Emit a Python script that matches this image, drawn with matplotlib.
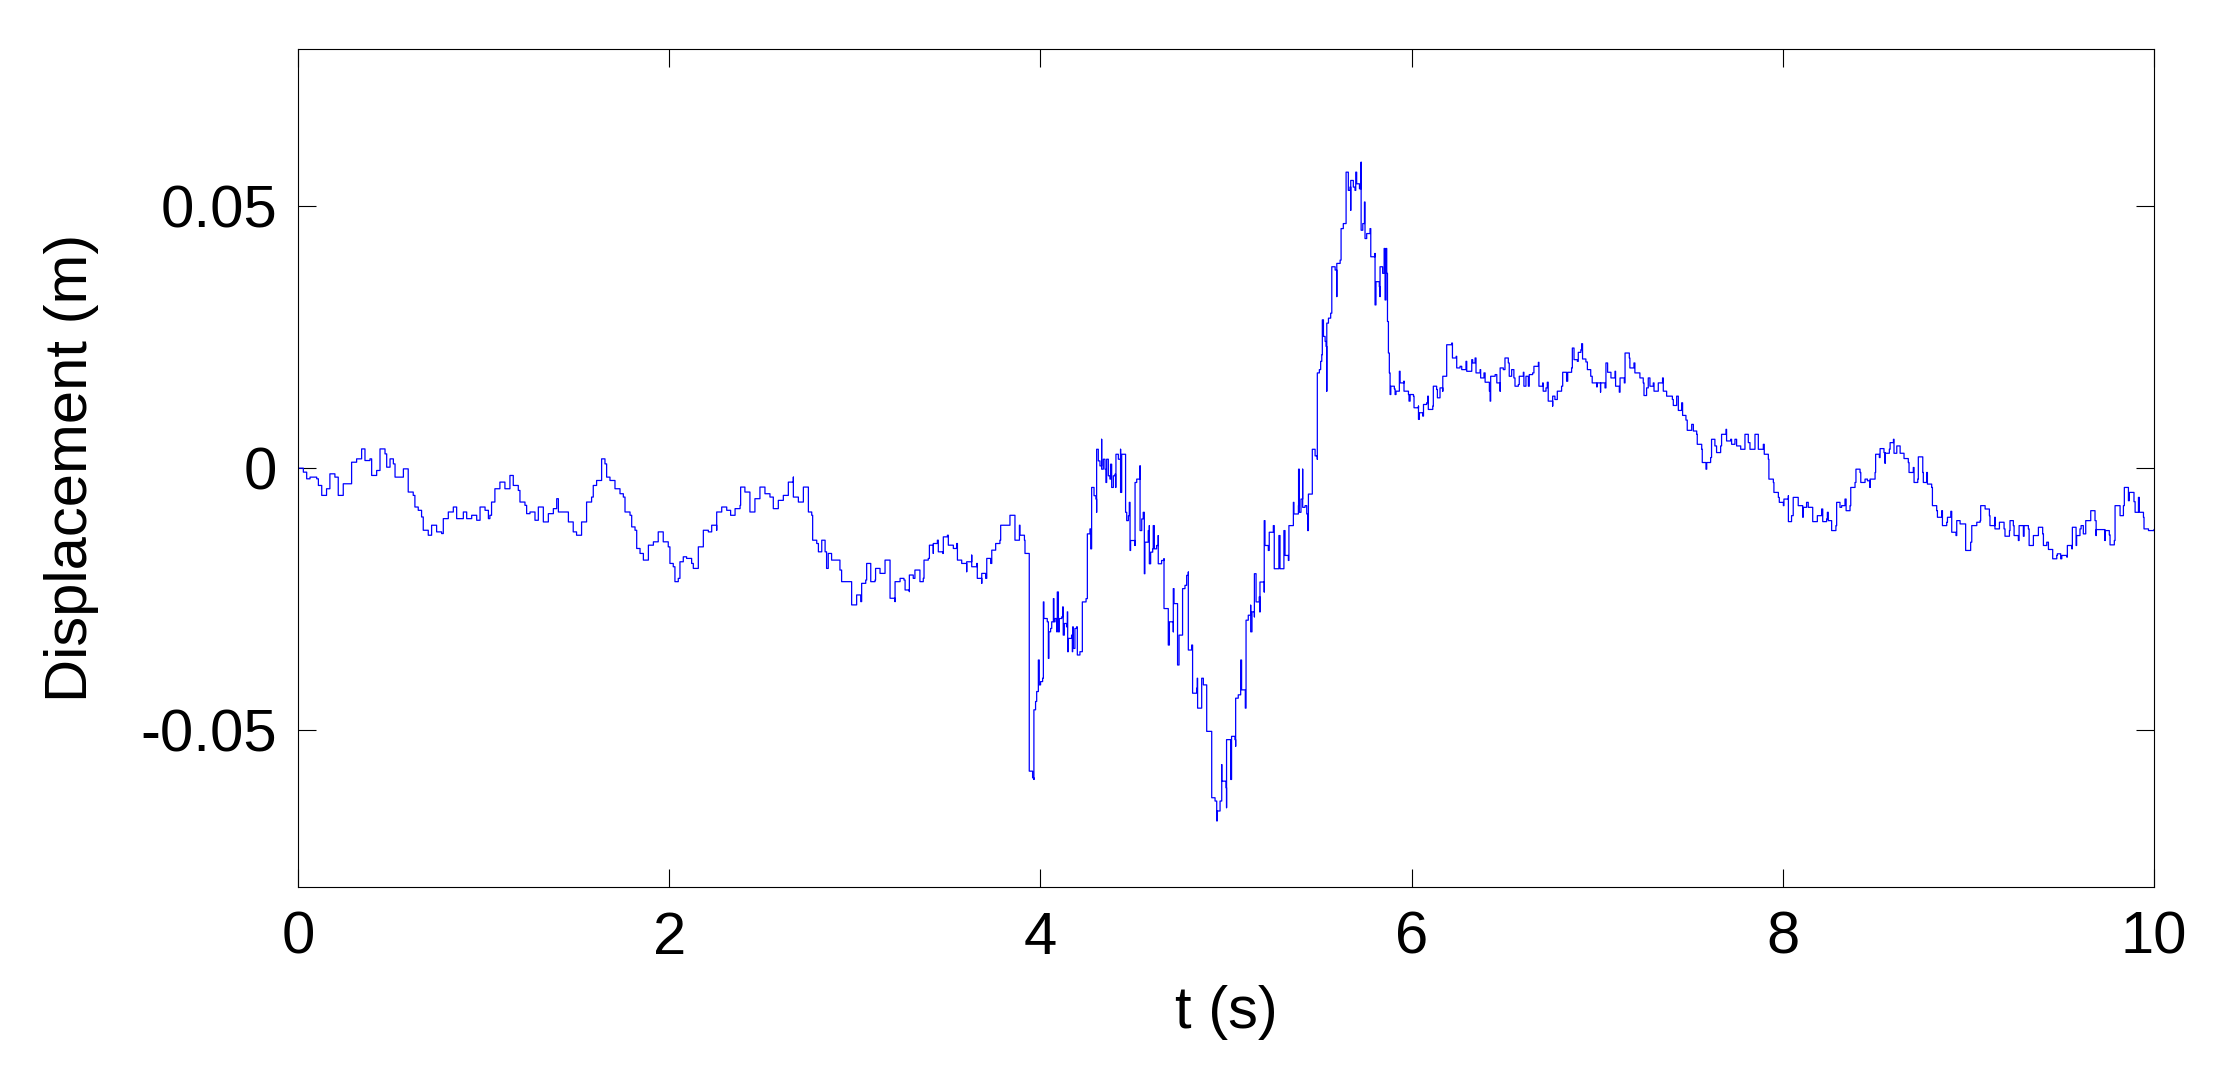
import numpy as np
import matplotlib
matplotlib.use("Agg")
import matplotlib.pyplot as plt

# displacement record: (time in s, displacement in mm)
seg_0_2 = [
    (0.000, 0.00), (0.029, -0.76), (0.047, -2.03), (0.065, -1.71), (0.101, -2.03), (0.110, -3.30),
    (0.128, -5.20), (0.154, -3.93), (0.172, -1.08), (0.199, -1.71), (0.217, -5.20), (0.235, -5.20),
    (0.244, -2.98), (0.280, -2.98), (0.289, 1.14), (0.316, 1.78), (0.343, 3.68), (0.361, 1.46),
    (0.388, 1.78), (0.397, -1.39), (0.424, -0.44), (0.442, 3.68), (0.469, 2.73), (0.478, 0.19),
    (0.496, 1.78), (0.514, 0.82), (0.523, -1.71), (0.568, -0.13), (0.594, -4.56), (0.621, -5.20),
    (0.630, -7.42), (0.648, -8.05), (0.666, -9.32), (0.675, -11.86), (0.702, -12.81), (0.720, -10.90),
    (0.747, -12.17), (0.774, -12.49), (0.783, -9.64), (0.810, -8.37), (0.837, -7.42), (0.855, -9.64),
    (0.891, -8.37), (0.909, -9.64), (0.936, -9.00), (0.963, -9.95), (0.981, -7.42), (1.008, -8.05),
    (1.026, -9.64), (1.034, -9.00), (1.043, -6.47), (1.061, -3.93), (1.088, -2.66), (1.115, -3.93),
    (1.142, -1.39), (1.160, -3.30), (1.187, -4.25), (1.196, -6.47), (1.223, -7.10), (1.232, -8.69),
    (1.250, -8.37), (1.277, -9.95), (1.295, -7.42), (1.322, -10.27), (1.349, -8.69), (1.376, -7.73),
    (1.394, -5.83), (1.403, -8.37), (1.430, -8.37), (1.457, -10.27), (1.483, -12.17), (1.501, -12.81),
    (1.528, -10.27), (1.555, -6.47), (1.582, -5.52), (1.591, -3.30), (1.609, -2.35), (1.636, 1.78),
    (1.654, 0.82), (1.663, -1.71), (1.681, -2.35), (1.708, -3.93), (1.735, -4.88), (1.753, -5.52),
    (1.762, -8.37), (1.789, -9.00), (1.798, -11.22), (1.816, -11.86), (1.825, -15.34), (1.843, -16.29),
    (1.861, -17.56), (1.888, -14.71), (1.915, -14.07), (1.941, -12.17), (1.968, -14.07), (1.995, -15.03),
    (2.004, -18.20), (2.022, -18.83), (2.031, -21.68), (2.049, -21.05), (2.058, -17.88), (2.076, -16.93),
    (2.094, -17.24), (2.121, -18.20), (2.130, -19.15), (2.157, -15.03), (2.184, -11.86), (2.211, -12.17),
]

seg_2_4 = [
    (2.229, -10.90), (2.256, -11.86), (2.256, -8.37), (2.283, -7.42), (2.310, -8.05), (2.331, -9.00),
    (2.355, -7.73), (2.382, -7.10), (2.385, -3.61), (2.408, -4.56), (2.435, -7.10), (2.435, -8.37),
    (2.462, -5.83), (2.489, -3.61), (2.516, -4.88), (2.543, -5.52), (2.561, -7.73), (2.588, -6.15),
    (2.615, -5.20), (2.642, -2.66), (2.669, -1.71), (2.669, -5.52), (2.696, -6.47), (2.723, -3.61),
    (2.750, -4.56), (2.750, -8.37), (2.768, -9.00), (2.773, -13.76), (2.795, -14.39), (2.804, -15.98),
    (2.822, -13.76), (2.840, -15.98), (2.848, -19.15), (2.857, -16.29), (2.875, -17.56), (2.902, -17.56),
    (2.920, -19.46), (2.929, -21.68), (2.956, -21.68), (2.983, -22.95), (2.983, -26.12), (3.010, -24.22),
    (3.032, -25.49), (3.037, -22.00), (3.059, -21.37), (3.064, -18.20), (3.086, -18.51), (3.086, -21.68),
    (3.109, -21.37), (3.112, -19.15), (3.136, -20.10), (3.163, -17.56), (3.190, -19.15), (3.190, -24.85),
    (3.217, -25.49), (3.217, -21.68), (3.244, -21.05), (3.265, -21.37), (3.271, -23.27), (3.294, -23.58),
    (3.294, -20.41), (3.315, -21.05), (3.324, -19.46), (3.351, -21.68), (3.369, -21.05), (3.373, -17.56),
    (3.396, -17.24), (3.402, -14.71), (3.423, -16.29), (3.423, -14.39), (3.445, -13.76), (3.450, -15.98),
    (3.474, -16.29), (3.477, -13.12), (3.499, -12.81), (3.504, -14.71), (3.531, -15.34), (3.549, -14.39),
    (3.553, -17.56), (3.576, -18.20), (3.603, -19.78), (3.603, -17.88), (3.630, -16.61), (3.630, -18.83),
    (3.657, -18.20), (3.660, -21.05), (3.684, -22.00), (3.684, -20.10), (3.705, -21.05), (3.711, -17.24),
    (3.732, -18.20), (3.738, -15.66), (3.759, -14.39), (3.782, -13.76), (3.786, -10.90), (3.836, -10.90),
    (3.836, -9.00), (3.863, -10.90), (3.863, -13.76), (3.887, -10.90), (3.890, -12.81), (3.914, -13.76),
    (3.917, -16.29), (3.940, -17.31),
]

seg_4_5 = [
    (3.940, -57.88), (3.958, -59.15), (3.965, -59.47), (3.965, -46.16), (3.974, -44.57), (3.980, -42.67),
    (3.989, -41.40), (3.989, -36.65), (3.994, -41.40), (4.001, -40.77), (4.012, -40.13), (4.016, -25.55),
    (4.019, -28.72), (4.037, -29.35), (4.043, -36.33), (4.046, -31.26), (4.055, -30.62), (4.061, -29.35),
    (4.070, -24.92), (4.073, -29.35), (4.079, -28.72), (4.088, -31.26), (4.091, -23.65), (4.097, -31.26),
    (4.102, -28.72), (4.115, -28.40), (4.120, -26.50), (4.123, -31.89), (4.129, -29.67), (4.141, -30.31),
    (4.145, -27.45), (4.147, -35.06), (4.150, -32.52), (4.168, -31.89), (4.172, -35.06), (4.174, -30.31),
    (4.177, -34.43), (4.186, -30.62), (4.195, -30.31), (4.199, -35.69), (4.213, -35.06), (4.226, -34.74),
    (4.226, -25.55), (4.246, -24.92), (4.253, -24.92), (4.253, -12.55), (4.267, -11.60), (4.271, -15.41),
    (4.276, -3.68), (4.289, -5.26), (4.299, -5.90), (4.303, -8.43), (4.303, 3.61), (4.312, 1.39),
    (4.321, 0.44), (4.330, 5.52), (4.330, -0.19), (4.339, 1.71), (4.348, -0.19), (4.353, -2.73),
    (4.357, 1.71), (4.366, -1.46), (4.375, -2.09), (4.378, 0.76), (4.384, -3.68), (4.393, -1.46),
    (4.402, -1.14), (4.405, -3.68), (4.407, 2.66), (4.420, 1.71), (4.429, 1.71), (4.432, 3.61),
    (4.432, -4.63), (4.438, 2.66), (4.456, 2.66), (4.459, -8.43), (4.465, -10.02), (4.474, -9.07),
    (4.479, -6.53), (4.483, -15.72), (4.486, -13.82), (4.510, -14.77), (4.510, -2.73), (4.519, -2.09),
    (4.537, 0.44), (4.537, -11.92), (4.546, -9.70), (4.554, -8.43), (4.560, -20.16), (4.563, -14.14),
    (4.581, -11.92), (4.587, -10.97), (4.587, -18.26), (4.594, -16.04), (4.605, -15.41), (4.608, -10.97),
    (4.614, -15.41), (4.626, -14.77), (4.635, -12.87), (4.635, -18.26), (4.653, -17.63), (4.666, -17.31),
    (4.666, -26.82), (4.689, -28.09), (4.689, -33.79), (4.695, -29.35), (4.716, -31.26), (4.716, -23.01),
    (4.720, -25.87), (4.739, -26.50), (4.739, -37.60), (4.747, -31.89), (4.766, -31.26), (4.766, -23.01),
    (4.779, -22.38), (4.788, -20.48), (4.797, -19.84), (4.797, -34.74), (4.815, -33.79), (4.820, -42.99),
    (4.842, -42.03), (4.845, -40.13), (4.847, -45.84), (4.869, -45.84), (4.869, -40.13), (4.878, -41.40),
    (4.896, -42.03), (4.896, -50.28), (4.923, -50.28), (4.923, -62.96), (4.941, -63.59), (4.950, -67.39),
    (4.953, -65.49), (4.968, -63.59), (4.977, -56.62), (4.977, -59.79), (5.000, -61.05), (5.003, -64.86),
    (5.003, -51.86), (5.025, -51.86), (5.025, -59.47), (5.030, -51.23), (5.048, -51.86), (5.052, -53.13),
    (5.052, -43.94), (5.066, -43.30), (5.079, -42.67), (5.079, -36.65), (5.084, -42.35), (5.104, -43.94),
    (5.104, -45.84), (5.108, -29.04), (5.120, -28.09), (5.133, -26.18), (5.133, -31.26), (5.140, -27.45),
    (5.153, -28.40), (5.153, -20.16), (5.162, -25.55), (5.179, -24.60), (5.183, -27.45), (5.183, -21.75),
    (5.206, -23.65), (5.206, -10.02), (5.210, -14.77), (5.228, -15.72), (5.233, -12.24), (5.255, -10.97),
    (5.260, -19.21), (5.282, -19.21), (5.285, -12.87), (5.291, -19.21), (5.309, -19.21), (5.312, -11.92),
    (5.318, -16.67), (5.336, -17.63), (5.339, -10.97), (5.363, -10.97), (5.363, -6.53), (5.366, -8.75),
    (5.390, -7.16), (5.391, -0.19), (5.395, -8.43), (5.404, -5.90), (5.413, -0.19), (5.413, -7.48),
    (5.426, -7.16), (5.435, -8.75), (5.440, -11.92), (5.444, -4.95), (5.465, -4.63), (5.465, 3.61),
    (5.480, 2.35), (5.492, 1.71),
]

seg_5_6 = [
    (5.492, 18.20), (5.503, 18.83), (5.510, 20.41), (5.516, 21.68), (5.519, 28.34), (5.525, 25.17),
    (5.534, 24.22), (5.539, 23.27), (5.543, 14.71), (5.543, 27.71), (5.552, 28.66), (5.564, 29.61),
    (5.570, 29.61), (5.570, 38.48), (5.588, 37.85), (5.597, 32.78), (5.597, 39.12), (5.615, 39.75),
    (5.620, 40.39), (5.620, 45.77), (5.632, 46.73), (5.647, 47.36), (5.647, 56.55), (5.659, 53.07),
    (5.668, 53.70), (5.672, 49.26), (5.672, 54.97), (5.686, 53.70), (5.695, 53.07), (5.699, 56.55),
    (5.704, 54.33), (5.719, 53.38), (5.728, 58.45), (5.728, 45.46), (5.737, 46.73), (5.746, 50.85),
    (5.749, 43.87), (5.758, 44.82), (5.776, 45.77), (5.780, 40.39), (5.803, 41.02), (5.803, 31.19),
    (5.808, 35.63), (5.826, 34.68), (5.830, 32.78), (5.830, 38.48), (5.844, 37.22), (5.852, 41.97),
    (5.857, 32.14), (5.862, 41.97), (5.866, 37.22), (5.870, 28.02), (5.875, 25.17), (5.875, 22.00),
    (5.880, 18.20), (5.884, 14.07), (5.888, 15.66), (5.907, 15.15), (5.911, 14.07), (5.916, 14.71),
    (5.934, 18.51), (5.938, 16.29), (5.959, 16.61), (5.959, 14.71), (5.983, 14.07), (5.986, 12.81),
    (5.992, 14.07), (6.010, 13.76), (6.013, 11.54), (6.037, 11.86), (6.037, 9.32), (6.042, 10.59),
    (6.060, 9.95), (6.064, 12.17), (6.081, 12.49), (6.087, 13.76), (6.090, 11.22), (6.114, 11.86),
    (6.117, 15.66), (6.135, 15.03), (6.139, 13.44), (6.153, 15.34), (6.168, 14.71), (6.168, 17.56),
    (6.189, 18.20), (6.189, 23.58), (6.216, 23.90), (6.220, 21.05), (6.240, 21.37), (6.243, 19.15),
    (6.261, 19.46), (6.270, 18.83), (6.293, 20.41), (6.297, 18.51), (6.324, 20.73), (6.329, 20.10),
    (6.342, 21.05), (6.347, 18.20), (6.369, 18.83), (6.372, 17.24), (6.390, 18.20), (6.396, 16.42),
    (6.419, 14.71), (6.423, 12.81), (6.426, 17.56), (6.450, 17.88), (6.459, 16.29), (6.477, 14.71),
    (6.477, 19.15),
]

seg_6_8 = [
    (6.494, 18.83), (6.503, 21.05), (6.521, 20.10), (6.526, 17.56), (6.539, 18.83), (6.551, 17.24),
    (6.557, 15.66), (6.575, 15.98), (6.580, 17.56), (6.602, 18.32), (6.605, 15.66), (6.616, 17.56),
    (6.629, 15.66), (6.634, 17.88), (6.652, 18.20), (6.659, 19.46), (6.683, 20.22), (6.686, 15.66),
    (6.706, 16.29), (6.709, 14.71), (6.724, 15.34), (6.731, 16.42), (6.736, 12.81), (6.760, 11.86),
    (6.760, 13.76), (6.772, 13.12), (6.785, 14.71), (6.808, 15.66), (6.814, 18.32), (6.835, 16.61),
    (6.841, 18.32), (6.862, 19.15), (6.866, 22.95), (6.875, 20.73), (6.893, 20.41), (6.898, 22.13),
    (6.912, 22.63), (6.916, 23.78), (6.921, 20.86), (6.939, 20.29), (6.947, 18.83), (6.965, 17.56),
    (6.973, 16.29), (6.997, 15.53), (7.000, 16.29), (7.018, 14.52), (7.018, 16.29), (7.042, 15.34),
    (7.047, 20.10), (7.056, 18.32), (7.074, 17.24), (7.096, 18.51), (7.099, 15.66), (7.119, 14.52),
    (7.123, 17.24), (7.146, 16.29), (7.150, 22.00), (7.173, 21.05), (7.176, 19.15), (7.198, 20.10),
    (7.203, 18.20), (7.230, 17.24), (7.248, 16.29), (7.252, 13.88), (7.266, 15.34), (7.275, 17.24),
    (7.284, 15.66), (7.302, 16.29), (7.306, 14.71), (7.329, 16.29), (7.352, 17.24), (7.356, 14.71),
    (7.374, 13.76), (7.405, 13.12), (7.410, 11.98), (7.428, 13.76), (7.437, 11.03), (7.455, 12.49),
    (7.460, 10.08), (7.478, 9.19), (7.485, 7.23), (7.509, 8.37), (7.518, 7.10), (7.536, 6.47),
    (7.539, 4.56), (7.563, 3.61), (7.566, 1.08), (7.586, -0.19), (7.590, 1.08), (7.611, 2.03),
    (7.616, 5.52), (7.634, 4.25), (7.643, 2.98), (7.665, 4.25), (7.670, 6.47), (7.694, 7.42),
    (7.697, 5.20), (7.719, 5.52), (7.724, 4.56), (7.742, 5.52), (7.751, 4.25), (7.773, 3.61),
    (7.796, 3.61), (7.796, 6.47), (7.814, 4.88), (7.823, 3.61), (7.845, 3.61), (7.850, 6.47),
    (7.868, 3.61), (7.895, 4.56), (7.900, 2.66), (7.922, 1.71), (7.925, -2.09), (7.949, -2.73),
    (7.952, -4.63), (7.976, -5.58), (7.981, -6.53), (8.003, -7.16), (8.006, -5.90), (8.030, -5.26),
    (8.030, -10.21), (8.047, -9.07), (8.056, -5.58), (8.083, -7.16), (8.107, -9.38), (8.110, -7.48),
    (8.128, -6.53), (8.137, -7.48), (8.161, -8.12), (8.161, -10.21), (8.186, -9.07), (8.209, -7.80),
    (8.215, -10.21), (8.236, -9.70), (8.240, -8.43), (8.245, -10.02), (8.263, -11.92), (8.286, -10.97),
    (8.290, -6.53), (8.308, -7.48),
]

seg_8_10 = [
    (8.317, -7.16), (8.335, -5.90), (8.341, -8.12), (8.362, -7.16), (8.366, -3.68), (8.389, -2.73),
    (8.394, -0.19), (8.416, -0.82), (8.420, -2.73), (8.443, -2.09), (8.456, -2.41), (8.470, -3.68),
    (8.470, -2.09), (8.497, -0.82), (8.500, 2.66), (8.520, 2.03), (8.524, 3.74), (8.545, 2.98),
    (8.551, 0.95), (8.551, 2.85), (8.574, 3.61), (8.578, 4.88), (8.596, 5.52), (8.599, 2.85),
    (8.614, 4.25), (8.628, 4.25), (8.632, 2.85), (8.653, 1.84), (8.676, 1.08), (8.680, -0.82),
    (8.703, 0.13), (8.707, -2.73), (8.727, -2.09), (8.730, 2.16), (8.754, -0.82), (8.757, -2.73),
    (8.775, -0.82), (8.779, -3.04), (8.802, -3.68), (8.806, -7.16), (8.829, -8.12), (8.833, -9.38),
    (8.856, -8.12), (8.860, -10.97), (8.883, -10.33), (8.887, -9.38), (8.905, -8.24), (8.910, -12.24),
    (8.933, -12.87), (8.937, -10.02), (8.955, -10.65), (8.985, -11.60), (8.985, -15.72), (9.012, -14.14),
    (9.018, -10.97), (9.045, -10.33), (9.063, -10.02), (9.066, -7.16), (9.090, -7.80), (9.113, -9.07),
    (9.116, -10.97), (9.143, -9.38), (9.143, -11.60), (9.167, -10.33), (9.192, -11.60), (9.197, -13.00),
    (9.221, -11.92), (9.224, -10.02), (9.242, -10.97), (9.246, -12.87), (9.269, -13.82), (9.273, -10.97),
    (9.296, -13.00), (9.300, -10.97), (9.323, -11.60), (9.327, -14.77), (9.350, -12.87), (9.377, -12.24),
    (9.377, -11.29), (9.400, -12.55), (9.404, -14.77), (9.422, -14.14), (9.431, -15.53), (9.454, -16.04),
    (9.454, -17.31), (9.476, -16.67), (9.479, -16.36), (9.497, -17.31), (9.503, -16.67), (9.530, -16.99),
    (9.533, -14.77), (9.557, -15.41), (9.560, -11.29), (9.580, -14.77), (9.583, -12.87), (9.601, -11.60),
    (9.607, -10.97), (9.619, -12.55), (9.632, -10.02), (9.659, -8.12), (9.682, -10.02), (9.688, -12.87),
    (9.688, -11.73), (9.718, -11.73), (9.736, -13.82), (9.736, -11.92), (9.759, -12.74), (9.763, -14.65),
    (9.786, -13.82), (9.790, -7.16), (9.817, -9.07), (9.835, -7.16), (9.840, -3.68), (9.862, -6.21),
    (9.867, -4.63), (9.892, -6.40), (9.898, -8.43), (9.916, -5.58), (9.921, -8.43), (9.943, -9.38),
    (9.946, -11.60), (9.970, -11.92), (10.000, -11.73),
]

x_ticks = [0, 2, 4, 6, 8, 10]
y_ticks = [-0.05, 0, 0.05]
y_tick_labels = ["-0.05", "0", "0.05"]

plt.rcParams["font.family"] = ["Liberation Sans", "DejaVu Sans"]

record = np.array(seg_0_2 + seg_2_4 + seg_4_5 + seg_5_6 + seg_6_8 + seg_8_10)
t = record[:, 0]
disp = record[:, 1] / 1000.0

fig = plt.figure(figsize=(22.17, 10.79), dpi=100)
ax = fig.add_axes([0.1344, 0.178, 0.8372, 0.7762])
# the recorder holds each sample, so draw it as a staircase
ax.plot(t, disp, color="#0000ff", linewidth=0.9, drawstyle="steps-post")

ax.set_xlim(0, 10)
ax.set_ylim(-0.08, 0.08)
ax.set_xticks(x_ticks)
ax.set_yticks(y_ticks)
ax.set_yticklabels(y_tick_labels)
ax.tick_params(direction="in", length=13, width=0.8, top=True, right=True,
               labelsize=43, colors="black")
ax.tick_params(axis="x", pad=17)
ax.tick_params(axis="y", pad=15)
for s in ax.spines.values():
    s.set_linewidth(0.8)

ax.set_xlabel("t (s)", fontsize=43, labelpad=14)
ax.set_ylabel("Displacement (m)", fontsize=43, labelpad=30)

fig.savefig("out.png", dpi=100, facecolor="white")
